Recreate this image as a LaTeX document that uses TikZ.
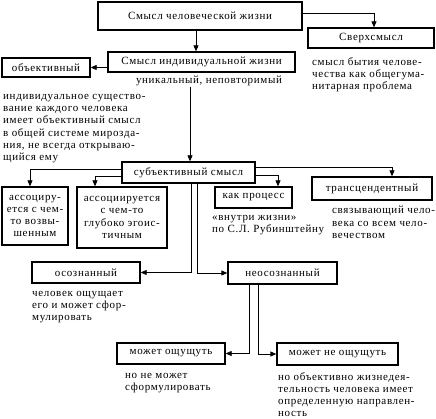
\documentclass[tikz,border=0pt]{standalone}
\usepackage{fontspec}
\setmainfont{Liberation Serif}[LetterSpace=6]
\usetikzlibrary{arrows.meta}
\begin{document}
\begin{tikzpicture}[x=1pt,y=-1pt,
  box/.style={draw,line width=1.3pt,inner sep=0pt,align=center,font=\fontsize{11}{12.3}\selectfont},
  txt/.style={anchor=north west,align=left,inner sep=0pt,font=\fontsize{11}{12.3}\selectfont,
    execute at begin node={\rule{0pt}{8pt}}},
  arr/.style={line width=0.8pt,-{Triangle[length=6pt,width=5pt]}}]
\useasboundingbox (0,0) rectangle (436,419);
% boxes
\node[box,minimum width=204pt,minimum height=28pt] (b1) at (200,16) {Смысл человеческой жизни};
\node[box,minimum width=187pt,minimum height=20pt] (b2) at (201.5,62) {Смысл индивидуальной жизни};
\node[box,minimum width=126pt,minimum height=20pt] (b3) at (371,38) {Сверхсмысл};
\node[box,minimum width=88pt,minimum height=19pt] (b4) at (46,67.5) {объективный};
\node[box,minimum width=133pt,minimum height=21pt] (b5) at (188.5,172.5) {субъективный смысл};
\node[box,minimum width=66pt,minimum height=58pt] (b6) at (35,216) {ассоциру-\\ется с чем-\\то возвы-\\шенным};
\node[box,minimum width=90pt,minimum height=61pt] (b7) at (122,217.5) {ассоциируется\\с чем-то\\глубоко эгоис-\\тичным};
\node[box,minimum width=77pt,minimum height=21pt] (b8) at (253.5,197.5) {как процесс};
\node[box,minimum width=120pt,minimum height=23pt] (b9) at (372,188.5) {трансцендентный};
\node[box,minimum width=108pt,minimum height=21pt] (b10) at (86,272.5) {осознанный};
\node[box,minimum width=109pt,minimum height=22pt] (b11) at (282.5,273) {неосознанный};
\node[box,minimum width=108pt,minimum height=21pt] (b12) at (171,353.5) {может ощущуть};
\node[box,minimum width=121pt,minimum height=22pt] (b13) at (337.5,354) {может не ощущуть};
% texts
\node[inner sep=0pt,anchor=base,font=\fontsize{11}{12.3}\selectfont] (t2) at (209,84) {уникальный, неповторимый};
\node[txt] (t3) at (312,57) {смысл бытия челове-\\чества как общегума-\\нитарная проблема};
\node[txt] (t4) at (3,94) {индивидуальное существо-\\вание каждого человека\\имеет объективный смысл\\в общей системе мирозда-\\ния, не всегда открываю-\\щийся ему};
\node[txt] (t8) at (212,215) {«внутри жизни»\\по С.Л. Рубинштейну};
\node[txt] (t9) at (332,206) {связывающий чело-\\века со всем чело-\\вечеством};
\node[txt] (t10) at (32,291) {человек ощущает\\его и может сфор-\\мулировать};
\node[txt] (t12) at (125,373) {но не может\\сформулировать};
\node[txt] (t13) at (278,372) {но объективно жизнедея-\\тельность человека имеет\\определенную направлен-\\ность};
% connectors
\draw[arr] ([xshift=-4pt]b1.south) -- ([xshift=-4pt]b1.south |- b2.north);
\draw[arr] ([yshift=3pt]b1.east) -| ([xshift=3pt]b3.north);
\draw[arr] (b2.west |- b4.east) -- (b4.east);
\draw[arr] ([xshift=1.5pt]t2.south -| b5.north) -- ([xshift=1.5pt]b5.north);
\draw[arr] ([yshift=3.5pt]b5.west) -| ([xshift=-5pt]b6.north);
\draw[arr] ([yshift=-3.5pt]b5.west) -| ([xshift=-27pt]b7.north);
\draw[arr] ([yshift=5.5pt]b5.east) -| ([xshift=20pt]b9.north);
\draw[arr] ([yshift=-2.5pt]b5.east) -| ([xshift=24.5pt]b8.north);
\draw[arr] ([xshift=2.5pt]b5.south) |- (b10.east);
\draw[arr] ([xshift=8.5pt]b5.south) |- (b11.west);
\draw[arr] ([xshift=-33.5pt]b11.south) |- (b12.east);
\draw[arr] ([xshift=-24.5pt]b11.south) |- (b13.west);
\end{tikzpicture}
\end{document}
